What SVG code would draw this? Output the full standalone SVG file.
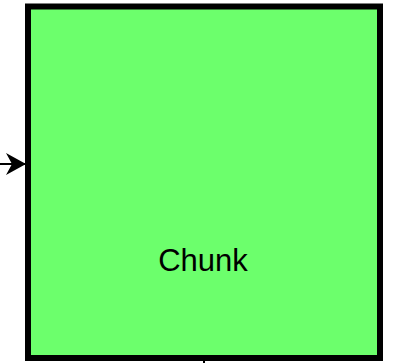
<svg xmlns="http://www.w3.org/2000/svg" width="403" height="363" viewBox="0 0 403 363">
  <style>
    .node { fill: #6cff6c; stroke: #000000; stroke-width: 6; }
    .label { font-family: "Liberation Sans", Arial, sans-serif; font-size: 31px; fill: #000000; }
    .edge { stroke: #000000; stroke-width: 2; fill: none; }
  </style>
  <defs>
    <marker id="arrow" markerUnits="userSpaceOnUse" markerWidth="22" markerHeight="24" refX="20" refY="12" orient="auto">
      <path d="M0,1 L20,12 L0,23 L6,12 Z" fill="#000000"/>
    </marker>
  </defs>
  <g id="connectors">
    <line class="edge" x1="0" y1="164" x2="26" y2="164" marker-end="url(#arrow)"/>
    <line class="edge" x1="204" y1="361" x2="204" y2="363"/>
  </g>
  <g id="chunk">
    <rect class="node" x="28" y="6.5" width="352" height="351.5"/>
    <text class="label" x="203" y="271" text-anchor="middle">Chunk</text>
  </g>
</svg>
